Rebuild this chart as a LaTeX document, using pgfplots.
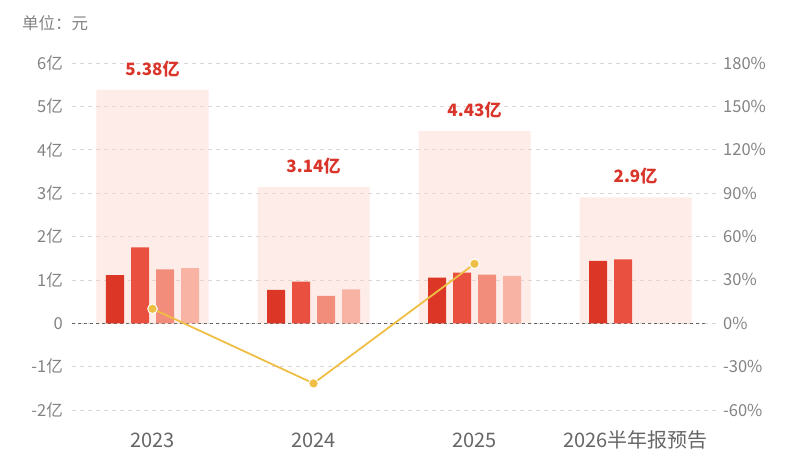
\documentclass[border=0pt]{standalone}
\usepackage{pgfplots}
\pgfplotsset{compat=1.18}
\usepackage{fontspec}
\setmainfont{Noto Sans CJK SC}
\definecolor{q1}{HTML}{DC3626}
\definecolor{q2}{HTML}{E9503F}
\definecolor{q3}{HTML}{F18D7A}
\definecolor{q4}{HTML}{F8B3A4}
\definecolor{bgp}{HTML}{FBCFC4}
\definecolor{lineY}{HTML}{EFBF45}
\definecolor{tick}{HTML}{838383}
\definecolor{xlab}{HTML}{666666}
\definecolor{lab}{HTML}{D9352A}
\definecolor{gridc}{HTML}{D8D8D8}
\begin{document}
\begin{tikzpicture}[x=1pt,y=1pt]
\useasboundingbox (0,0) rectangle (800,450);
\node[anchor=west, text=tick, font=\fontsize{16.5}{16.5}\selectfont, inner sep=0pt] at (22,427) {单位：元};
\begin{axis}[
  at={(72pt,40pt)}, anchor=south west,
  scale only axis, width=644pt, height=347pt,
  xmin=-0.5, xmax=3.5, ymin=-2, ymax=6,
  axis line style={draw=none},
  tick style={draw=none},
  clip=false,
  xtick={0,1,2,3}, xticklabels={2023,2024,2025,2026半年报预告},
  xticklabel style={font=\fontsize{20}{20}\selectfont, text=xlab, anchor=center, yshift=-30pt, inner sep=0pt},
  ytick={-2,-1,...,6}, yticklabels={-2亿,-1亿,0,1亿,2亿,3亿,4亿,5亿,6亿},
  yticklabel style={font=\fontsize{16.5}{16.5}\selectfont, text=tick, anchor=east, inner sep=0pt, xshift=-9pt},
  ymajorgrids, grid style={gridc, dash pattern=on 4pt off 4pt, line width=0.6pt},
]
\addplot[ybar, bar width=112pt, bar shift=0pt, fill=bgp, fill opacity=0.4, draw=none,
  nodes near coords, point meta=explicit symbolic,
  nodes near coords style={anchor=center, yshift=21pt, text=lab, text opacity=1, font=\fontsize{17}{17}\selectfont\bfseries}]
  coordinates {(0,5.38) [5.38亿] (1,3.14) [3.14亿] (2,4.43) [4.43亿] (3,2.9) [2.9亿]};
\draw[color=black!60, dash pattern=on 3pt off 3pt, line width=0.7pt] (axis cs:-0.5,0) -- (axis cs:3.45,0);
\addplot[ybar, bar width=18pt, bar shift=-37.5pt, fill=q1, draw=none] coordinates {(0,1.11) (1,0.77) (2,1.05) (3,1.44)};
\addplot[ybar, bar width=18pt, bar shift=-12.5pt, fill=q2, draw=none] coordinates {(0,1.75) (1,0.96) (2,1.17) (3,1.47)};
\addplot[ybar, bar width=18pt, bar shift=12.5pt, fill=q3, draw=none] coordinates {(0,1.24) (1,0.63) (2,1.12)};
\addplot[ybar, bar width=18pt, bar shift=37.5pt, fill=q4, draw=none] coordinates {(0,1.27) (1,0.78) (2,1.09)};
\end{axis}
\begin{axis}[
  at={(72pt,40pt)}, anchor=south west,
  scale only axis, width=644pt, height=347pt,
  xmin=-0.5, xmax=3.5, ymin=-60, ymax=180,
  axis line style={draw=none},
  tick style={draw=none},
  axis y line*=right, axis x line=none,
  clip=false,
  ytick={-60,-30,...,180}, yticklabels={-60\%,-30\%,0\%,30\%,60\%,90\%,120\%,150\%,180\%},
  yticklabel style={font=\fontsize{16.5}{16.5}\selectfont, text=tick, anchor=west, inner sep=0pt, xshift=7pt},
]
\addplot[color=lineY, line width=1.8pt, mark=*, mark size=4.8pt, mark options={fill=lineY, draw=white, line width=1pt}]
  coordinates {(0,10.0) (1,-41.6) (2,41.1)};
\end{axis}
\end{tikzpicture}
\end{document}
